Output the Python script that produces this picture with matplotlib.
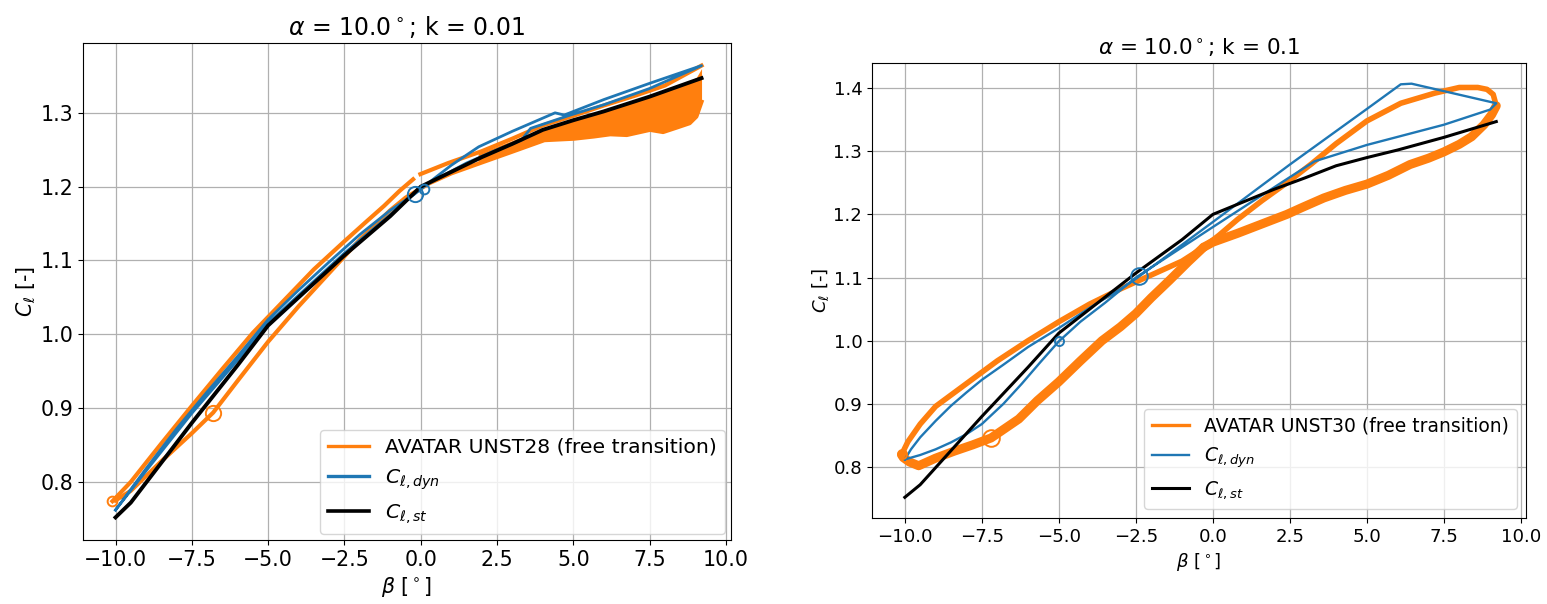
import matplotlib
matplotlib.use('Agg')
import matplotlib.pyplot as plt
from matplotlib.lines import Line2D

C_OR = '#ff7f0e'
C_BL = '#1f77b4'

# statische Polare Cl(beta) bei alpha = 10 deg (in beiden Plots gleich)
beta_st = [-10.0, -9.5, -8.5, -7.5, -6.0, -5.0, -4.0, -2.5, -1.0, 0.0, 1.0, 2.0, 3.0, 4.0, 5.0, 6.0, 7.5, 9.2]
cl_st = [0.752, 0.772, 0.826, 0.880, 0.958, 1.012, 1.050, 1.107, 1.160, 1.200, 1.220, 1.240, 1.258, 1.277, 1.290, 1.302, 1.322, 1.347]

# ---- k = 0.01 ----
# Messung UNST28, oberer Ast (mit Luecke bei beta ~ 0)
k1_up_beta = [-10.1, -9.5, -8.5, -7.5, -6.5, -5.5, -4.5, -3.5, -2.5, -1.8, -1.2, -0.7, -0.25, None,
              -0.01, 0.9, 2.0, 3.0, 4.0, 5.0, 6.0, 7.0, 8.0, 9.2]
k1_up_cl = [0.774, 0.800, 0.852, 0.903, 0.953, 1.002, 1.045, 1.088, 1.126, 1.152, 1.174, 1.194, 1.210, None,
            1.217, 1.232, 1.248, 1.265, 1.283, 1.296, 1.310, 1.323, 1.337, 1.364]
# Messung UNST28, unterer Ast
k1_lo_beta = [9.2, 9.03, 8.81, 8.38, 7.94, 7.51, 6.75, 6.21, 5.67, 5.02, 4.05, 2.97, 1.88, 1.0, 0.3, -0.5,
              -1.0, -2.0, -3.0, -4.0, -5.0, -6.0, -6.8, -7.5, -8.5, -9.5, -10.0]
k1_lo_cl = [1.315, 1.295, 1.286, 1.280, 1.274, 1.277, 1.270, 1.271, 1.268, 1.265, 1.263, 1.247, 1.231, 1.218, 1.205, 1.185,
            1.168, 1.128, 1.083, 1.038, 0.990, 0.937, 0.894, 0.866, 0.828, 0.788, 0.775]
# Streubereich der Messung bei grossen beta
k1_fill_beta = [1.88, 2.97, 4.05, 5.02, 5.67, 6.21, 6.75, 7.51, 7.94, 8.38, 8.81, 9.03, 9.2]
k1_fill_lo = [1.231, 1.247, 1.263, 1.265, 1.268, 1.271, 1.270, 1.277, 1.274, 1.280, 1.286, 1.295, 1.315]
k1_fill_hi = [1.245, 1.262, 1.280, 1.293, 1.300, 1.307, 1.314, 1.324, 1.330, 1.337, 1.343, 1.348, 1.360]
k1_or_mark_beta = [-10.1, -6.8]
k1_or_mark_cl = [0.774, 0.894]
k1_or_mark_ms = [7, 11]

# Modell Cl_dyn, k = 0.01
k1_dyn_beta = [-10.0, -9.0, -8.0, -7.0, -6.0, -5.0, -4.0, -3.0, -2.0, -1.0, -0.2, 0.5, 1.0, 1.9, 3.0, 4.4, 4.7, 6.0, 7.5, 9.2,
               7.5, 6.0, 4.9, 3.6, 3.3, 2.5, 1.5, 0.5, 0.0, -1.0, -2.5, -4.0, -5.0, -6.0, -7.5, -9.0, -10.0]
k1_dyn_cl = [0.762, 0.818, 0.872, 0.922, 0.970, 1.020, 1.060, 1.098, 1.135, 1.168, 1.190, 1.213, 1.229, 1.254, 1.275, 1.300, 1.297, 1.318, 1.340, 1.364,
             1.333, 1.311, 1.297, 1.279, 1.263, 1.250, 1.232, 1.210, 1.198, 1.162, 1.110, 1.053, 1.015, 0.965, 0.893, 0.815, 0.762]
k1_dyn_mark_beta = [-0.2, 0.1]
k1_dyn_mark_cl = [1.190, 1.197]
k1_dyn_mark_ms = [11, 7]

# ---- k = 0.1 ----
# Messung UNST30 in vier Abschnitten (duenn / dick)
k2_a_beta = [-10.1, -9.9, -9.5, -9.0, -8.0, -7.0, -6.0, -5.0, -4.0, -3.0, -2.0, -1.0, -0.3]
k2_a_cl = [0.820, 0.840, 0.868, 0.896, 0.932, 0.968, 1.000, 1.030, 1.058, 1.082, 1.104, 1.126, 1.148]
k2_b_beta = [-0.3, 0.0, 0.8, 1.6, 2.4, 2.9, 3.6, 4.3, 5.0, 5.7, 6.4, 7.0, 7.5, 8.0, 8.4, 8.8, 9.05, 9.2]
k2_b_cl = [1.148, 1.156, 1.170, 1.185, 1.200, 1.211, 1.226, 1.238, 1.248, 1.262, 1.279, 1.289, 1.299, 1.311, 1.323, 1.342, 1.358, 1.372]
k2_c_beta = [9.2, 9.1, 8.9, 8.6, 8.0, 7.2, 6.1, 5.0, 4.0, 3.2, 2.4, 1.6, 0.8, 0.2, -0.3]
k2_c_cl = [1.372, 1.390, 1.398, 1.401, 1.401, 1.392, 1.376, 1.348, 1.312, 1.280, 1.250, 1.222, 1.192, 1.167, 1.148]
k2_d_beta = [-0.3, -0.8, -1.4, -2.0, -2.5, -3.0, -3.6, -4.3, -5.0, -5.7, -6.3, -7.2, -7.8, -8.4, -9.0, -9.55, -9.85, -10.05, -10.1]
k2_d_cl = [1.148, 1.125, 1.096, 1.068, 1.043, 1.022, 1.000, 0.968, 0.935, 0.905, 0.876, 0.846, 0.835, 0.825, 0.814, 0.802, 0.808, 0.815, 0.820]
k2_or_mark_beta = [-10.1, -7.2]
k2_or_mark_cl = [0.820, 0.846]
k2_or_mark_ms = [6.5, 12]

# Modell Cl_dyn, k = 0.1
k2_dyn_beta = [-10.0, -9.8, -9.5, -9.0, -8.5, -8.0, -7.5, -6.8, -6.0, -5.0, -4.0, -3.0, -2.5, 0.0, 2.5, 5.0, 6.1, 6.45, 9.2,
               9.0, 7.5, 5.0, 3.3, 2.5, 0.0, -2.5, -3.5, -4.3, -5.0, -5.6, -6.2, -6.8, -7.5, -8.0, -8.5, -9.0, -9.5, -10.0]
k2_dyn_cl = [0.812, 0.828, 0.847, 0.873, 0.897, 0.918, 0.938, 0.962, 0.990, 1.020, 1.052, 1.082, 1.098, 1.188, 1.279, 1.367, 1.406, 1.407, 1.376,
             1.366, 1.342, 1.310, 1.284, 1.259, 1.180, 1.100, 1.060, 1.030, 0.999, 0.966, 0.932, 0.900, 0.868, 0.852, 0.839, 0.828, 0.819, 0.812]
k2_dyn_mark_beta = [-5.0, -2.4]
k2_dyn_mark_cl = [0.999, 1.103]
k2_dyn_mark_ms = [6.5, 12]


def marks(ax, xs, ys, sizes, color):
    for x, y, s in zip(xs, ys, sizes):
        ax.plot(x, y, 'o', mfc='none', mec=color, ms=s, mew=1.4, zorder=5)


def style(ax, title, fs_tick, fs_title, legend_label, lw_leg, fs_leg, pad_leg):
    ax.set_title(title, fontsize=fs_title)
    ax.set_xlabel(r'$\beta$ [$^\circ$]', fontsize=fs_tick)
    ax.set_ylabel(r'$C_\ell$ [-]', fontsize=fs_tick, labelpad=2)
    ax.tick_params(labelsize=fs_tick)
    ax.set_xticks([-10, -7.5, -5, -2.5, 0, 2.5, 5, 7.5, 10])
    ax.grid(True, color='#b0b0b0', lw=0.9)
    ax.set_axisbelow(True)
    handles = [Line2D([], [], color=C_OR, lw=lw_leg[0]),
               Line2D([], [], color=C_BL, lw=lw_leg[1]),
               Line2D([], [], color='black', lw=lw_leg[2])]
    ax.legend(handles, [legend_label, r'$C_{\ell,dyn}$', r'$C_{\ell,st}$'],
              loc='lower right', fontsize=fs_leg, borderaxespad=pad_leg)


fig = plt.figure(figsize=(15.47, 6.04), dpi=100)

# linker Plot
ax1 = fig.add_axes([83 / 1547, 1 - 540 / 604, 648 / 1547, 497 / 604])
ax1.fill_between(k1_fill_beta, k1_fill_lo, k1_fill_hi, color=C_OR, lw=0)
ax1.plot(k1_up_beta, k1_up_cl, color=C_OR, lw=3.0)
ax1.plot(k1_lo_beta, k1_lo_cl, color=C_OR, lw=3.0)
ax1.plot(k1_dyn_beta, k1_dyn_cl, color=C_BL, lw=2.0)
ax1.plot(beta_st, cl_st, color='black', lw=2.8)
marks(ax1, k1_or_mark_beta, k1_or_mark_cl, k1_or_mark_ms, C_OR)
marks(ax1, k1_dyn_mark_beta, k1_dyn_mark_cl, k1_dyn_mark_ms, C_BL)
style(ax1, r'$\alpha$ = 10.0$^\circ$; k = 0.01', 14.8, 17,
      'AVATAR UNST28 (free transition)', (2.4, 2.4, 2.6), 14.7, 0.3)

# rechter Plot
ax2 = fig.add_axes([872 / 1547, 1 - 518 / 604, 654 / 1547, 455 / 604])
ax2.plot(k2_a_beta, k2_a_cl, color=C_OR, lw=4.0, solid_capstyle='round')
ax2.plot(k2_b_beta, k2_b_cl, color=C_OR, lw=6.5, solid_capstyle='round')
ax2.plot(k2_c_beta, k2_c_cl, color=C_OR, lw=4.0, solid_capstyle='round')
ax2.plot(k2_d_beta, k2_d_cl, color=C_OR, lw=6.5, solid_capstyle='round')
ax2.plot(k2_dyn_beta, k2_dyn_cl, color=C_BL, lw=1.7)
ax2.plot(beta_st, cl_st, color='black', lw=2.2)
marks(ax2, k2_or_mark_beta, k2_or_mark_cl, k2_or_mark_ms, C_OR)
marks(ax2, k2_dyn_mark_beta, k2_dyn_mark_cl, k2_dyn_mark_ms, C_BL)
style(ax2, r'$\alpha$ = 10.0$^\circ$; k = 0.1', 13.1, 15.5,
      'AVATAR UNST30 (free transition)', (2.4, 1.7, 2.2), 13.5, 0.5)

fig.savefig('out.png', dpi=100)
